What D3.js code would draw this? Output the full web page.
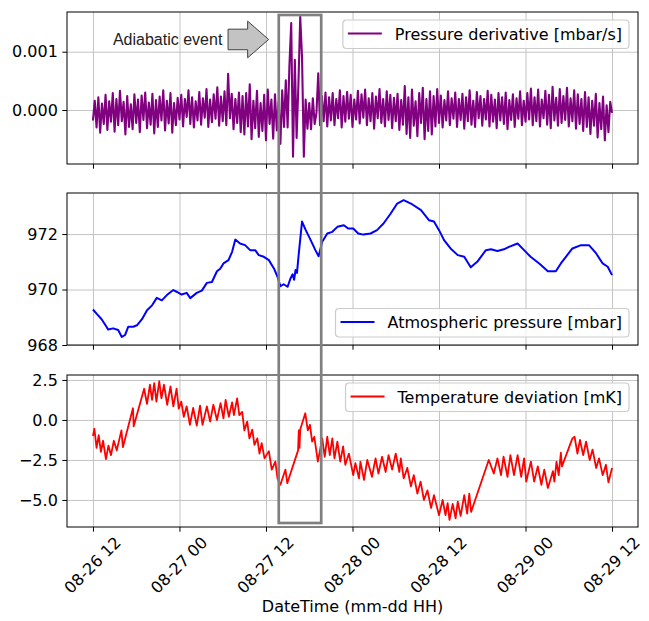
<!DOCTYPE html>
<html>
<head>
<meta charset="utf-8">
<script src="https://cdn.jsdelivr.net/npm/d3@7"></script>
<style>
  body { margin: 0; background: #fff; }
  svg { display: block; }
</style>
</head>
<body>
<div id="output"></div>
<script>
// time is kept as hours after 08-26 12:00
const startTime = Date.UTC(2023, 7, 26, 12);
const xTickHours = [0, 12, 24, 36, 48, 60, 72];
const xLabel = "DateTime (mm-dd HH)";

// pressure derivative in 1e-4 mbar/s, one sample every 15 min
const derivStepHours = 0.25;
const derivValues = [
  -1.8, 1.6, -3.0, 2.2, -3.9, 1.1, -2.4, 2.6, -3.4, 1.5, -2.0, 2.9,
  -3.7, 1.9, -2.6, 3.3, -1.9, 1.4, -4.2, 2.4, -2.9, 1.0, -3.3, 2.7,
  -2.2, 1.8, -3.8, 2.5, -1.7, 3.0, -3.1, 1.3, -2.5, 2.8, -4.0, 1.7,
  -2.9, 2.3, -1.8, 3.4, -3.5, 1.6, -2.3, 2.9, -3.9, 1.2, -2.6, 2.1,
  -1.6, 2.6, -2.8, 1.9, -1.2, 3.4, -2.4, 2.2, -3.0, 1.5, -1.8, 3.1,
  -2.5, 2.0, -1.3, 3.6, -2.9, 1.8, -2.1, 2.7, -1.5, 3.9, -2.7, 2.3,
  -1.9, 3.2, -2.6, 6.2, -1.4, 2.8, -3.3, 1.9, -2.2, 3.0, -3.8, 2.4,
  -4.2, 2.9, -2.8, 4.4, -5.0, 1.6, -3.1, 3.3, -4.6, 1.2, -3.6, 2.6,
  -5.2, 3.5, -2.4, 1.8, -4.9, 2.7, -3.5, 1.4, -5.8, 3.4, -2.9, 5.1,
  -3.0, 7.6, 14.9, -8.0, 8.6, -4.8, 4.5, 16.0, 9.0, -8.0, 1.8, -3.2,
  1.2, -3.3, 2.0, -2.4, -0.5, 6.3, -2.6, 2.4, -1.9, 3.0, -2.8, 2.2,
  -1.8, 2.9, -2.6, 1.9, -1.4, 3.4, -3.0, 2.4, -2.0, 3.1, -1.5, 2.6,
  -2.9, 1.8, -1.6, 3.3, -2.3, 2.7, -1.3, 3.5, -2.6, 2.0, -1.9, 2.9,
  -3.2, 2.3, -1.4, 3.6, -2.2, 1.9, -2.8, 3.2, -1.7, 2.6, -3.1, 2.1,
  -1.9, 2.8, -3.4, 1.7, -2.5, 4.1, -4.1, 2.2, -4.8, 3.5, -2.7, 1.5,
  -4.5, 2.9, -2.2, 3.8, -5.0, 1.9, -3.6, 3.2, -4.2, 2.4, -2.8, 3.6,
  -2.2, 2.5, -3.0, 1.7, -1.8, 3.2, -2.6, 2.0, -1.5, 3.0, -2.9, 1.9,
  -1.7, 2.8, -3.2, 2.2, -1.9, 3.4, -2.5, 1.6, -2.9, 3.1, -1.4, 2.4,
  -2.7, 1.9, -1.6, 3.3, -2.8, 2.6, -2.0, 1.8, -3.1, 2.9, -1.8, 2.2,
  -2.4, 3.0, -3.3, 1.7, -1.7, 2.7, -2.9, 2.0, -1.5, 3.2, -2.6, 1.6,
  -2.0, 2.9, -1.6, 3.7, -2.6, 2.2, -1.9, 3.5, -2.8, 1.8, -1.4, 3.3,
  -2.5, 2.6, -3.1, 4.0, -1.8, 2.1, -2.7, 3.6, -2.2, 2.4, -1.7, 3.8,
  -2.8, 2.0, -1.9, 3.4, -3.2, 2.7, -2.4, 1.9, -3.6, 3.1, -2.9, 2.2,
  -4.1, 1.6, -2.7, 2.8, -4.7, 1.2, -3.3, 2.3, -5.2, 0.8, -3.8, 1.4,
  -0.5
];
const derivTicks = [0, 10];
const derivTickLabels = ["0.000", "0.001"];

// atmospheric pressure [hours, mbar]
const pressurePoints = [
  [0, 969.28], [0.5, 969.13], [1.2, 968.93], [1.9, 968.65], [2.1, 968.56],
  [2.8, 968.6], [3.5, 968.54], [4.0, 968.29], [4.45, 968.36], [4.9, 968.66],
  [5.6, 968.66], [6.1, 968.71], [6.8, 968.93], [7.5, 969.25], [8.2, 969.43],
  [8.85, 969.7], [9.55, 969.61], [10.25, 969.8], [11.15, 969.98], [11.6, 969.92],
  [12.3, 969.82], [13.0, 969.88], [13.5, 969.69], [14.4, 969.88], [15.1, 969.96],
  [15.8, 970.24], [16.5, 970.27], [17.2, 970.66], [17.65, 970.75], [18.1, 970.94],
  [18.8, 971.06], [19.3, 971.36], [19.75, 971.8], [20.4, 971.66], [21.1, 971.6],
  [21.8, 971.42], [22.5, 971.42], [23.0, 971.24], [23.7, 971.18], [24.4, 971.06],
  [25.1, 970.76], [25.6, 970.46], [26.0, 970.12], [26.45, 970.19], [27.0, 970.1],
  [27.4, 970.4], [27.7, 970.55], [27.9, 970.35], [28.1, 970.7], [28.3, 970.6],
  [28.55, 971.3], [29.0, 972.45], [29.5, 972.15], [30.2, 971.78], [30.85, 971.42],
  [31.3, 971.2], [31.8, 971.72], [32.5, 972.02], [33.2, 972.08], [33.9, 972.26],
  [34.8, 972.32], [35.4, 972.2], [36.1, 972.2], [36.8, 972.02], [37.5, 971.98],
  [38.5, 972.02], [39.4, 972.14], [40.3, 972.38], [41.3, 972.74], [42.2, 973.1],
  [43.1, 973.22], [44.1, 973.1], [45.5, 972.86], [46.6, 972.5], [47.3, 972.45],
  [48.0, 972.14], [48.7, 971.78], [49.6, 971.48], [50.6, 971.24], [51.5, 971.18],
  [52.4, 970.8], [53.3, 971.0], [54.5, 971.42], [55.2, 971.45], [56.1, 971.39],
  [57.0, 971.45], [57.7, 971.54], [58.9, 971.66], [59.8, 971.42], [60.7, 971.18],
  [61.9, 970.94], [63.1, 970.66], [64.2, 970.66], [64.9, 970.94], [65.6, 971.18],
  [66.5, 971.48], [67.7, 971.6], [68.8, 971.6], [69.8, 971.3], [70.7, 970.94],
  [71.4, 970.82], [72.0, 970.52]
];
const pressureTicks = [968, 970, 972];
const pressureTickLabels = ["968", "970", "972"];

// temperature deviation [hours, mK]
const tempPoints = [
  [0, -1.0], [0.2, -0.55], [0.5, -1.75], [0.8, -0.95], [1.1, -2.0], [1.4, -1.3],
  [1.8, -2.45], [2.15, -1.6], [2.5, -2.2], [2.9, -1.3], [3.3, -1.9], [3.95, -0.65],
  [4.15, -1.7], [5.55, 0.73], [5.65, -0.4], [7.1, 1.95],
  [7.5, 1.0], [7.9, 2.2], [8.2, 1.25], [8.5, 2.3], [8.8, 1.15], [9.2, 2.42],
  [9.5, 1.35], [9.85, 2.2], [10.3, 0.95], [10.75, 2.1], [11.15, 0.85], [11.6, 1.95],
  [11.9, 0.7], [12.25, 1.15], [12.6, 0.2], [13.0, 0.85], [13.45, -0.3], [13.9, 0.75],
  [14.4, -0.35], [14.85, 0.9], [15.2, -0.3], [15.8, 0.85], [16.25, -0.1], [16.7, 0.95],
  [17.2, 0.0], [17.7, 1.05], [18.1, 0.1], [18.4, 1.25], [18.85, 0.2], [19.3, 1.1],
  [19.55, 0.3], [20.0, 1.35], [20.3, 0.3], [20.7, 0.5], [21.0, -0.65], [21.4, -0.1],
  [21.7, -1.15], [22.1, -0.6], [22.4, -1.55], [22.8, -1.15], [23.1, -2.1], [23.4, -1.45],
  [23.8, -2.4], [24.4, -1.95], [24.8, -3.1], [25.3, -2.6], [25.6, -3.65], [26.0, -4.05],
  [26.7, -3.1], [26.95, -3.95], [28.45, -1.9], [28.55, -0.65], [28.65, -1.75], [28.75, -0.6],
  [29.45, 0.42], [29.8, -0.65], [30.1, -0.3], [30.4, -1.35], [30.7, -1.05], [31.2, -2.6],
  [31.8, -1.15], [32.15, -2.3], [32.5, -1.05], [32.85, -2.2], [33.2, -1.15], [33.5, -2.4],
  [33.9, -1.35], [34.3, -2.6], [34.7, -1.65], [35.0, -2.8], [35.5, -2.1], [36.1, -3.45],
  [36.4, -2.7], [36.9, -3.65], [37.1, -2.6], [37.6, -3.75], [38.05, -2.5], [38.7, -3.55],
  [39.2, -2.4], [39.6, -3.35], [40.1, -2.3], [40.6, -3.25], [41.0, -2.2], [41.5, -3.1],
  [42.0, -2.1], [42.5, -3.25], [42.7, -2.4], [43.1, -3.65], [43.6, -3.0], [44.1, -4.15],
  [44.5, -3.45], [45.0, -4.6], [45.45, -3.85], [45.9, -5.0], [46.4, -4.4], [46.9, -5.5],
  [47.3, -4.7], [48.0, -5.95], [48.5, -5.0], [48.9, -5.95], [49.2, -5.2], [49.45, -6.25],
  [49.9, -5.25], [50.3, -6.15], [50.6, -5.1], [51.0, -6.0], [51.5, -4.7], [51.9, -5.85],
  [52.2, -4.6], [52.45, -5.75], [54.9, -2.5], [55.6, -3.35], [56.1, -2.4], [56.6, -3.45],
  [56.95, -2.3], [57.5, -3.55], [57.9, -2.2], [58.4, -3.45], [58.9, -2.2], [59.4, -3.55],
  [59.8, -2.4], [60.1, -3.85], [60.75, -2.6], [61.2, -3.85], [61.7, -2.9], [62.2, -4.05],
  [62.6, -3.1], [63.1, -4.25], [63.8, -3.2], [64.0, -3.85], [64.3, -2.6], [64.6, -3.45],
  [64.9, -2.05], [65.05, -2.9], [66.5, -1.15], [66.8, -1.05], [67.2, -2.1], [67.55, -1.25],
  [68.0, -2.2], [68.4, -1.35], [68.9, -2.5], [69.3, -1.85], [69.8, -3.0], [70.2, -2.4],
  [70.7, -3.45], [71.15, -2.8], [71.5, -3.9], [72.0, -3.0]
];
const tempTicks = [-5, -2.5, 0, 2.5];
const tempTickLabels = ["\u22125.0", "\u22122.5", "0.0", "2.5"];

// highlighted window (hours) and arrow tip
const eventWindow = [25.77, 31.66];
const arrowTipHour = 24.37;
const arrowText = "Adiabatic event";

const width = 649, height = 621;
const xLeft = 67, xRight = 638;
const font = "DejaVu Sans";
const gridColor = "#c4c4c4";
const hourMs = 3600 * 1000;
const toDate = (h) => new Date(startTime + h * hourMs);

// matplotlib style 5% margin around the data span
const span = xTickHours[xTickHours.length - 1] - xTickHours[0];
const x = d3.scaleUtc()
  .domain([toDate(-span * 0.05), toDate(span * 1.05)])
  .range([xLeft, xRight]);
const xTickDates = xTickHours.map(toDate);
const fmt = d3.utcFormat("%m-%d %H");

const svg = d3.select("#output").append("svg")
  .attr("width", width)
  .attr("height", height)
  .attr("font-family", font);

const panels = [
  {
    top: 12, bottom: 164, domain: [-9.26, 16.81],
    ticks: derivTicks, labels: derivTickLabels,
    points: derivValues.map((v, i) => [i * derivStepHours, v]),
    color: "#800080", lineWidth: 2.1,
    legend: "Pressure derivative [mbar/s]", legendAt: "top"
  },
  {
    top: 193, bottom: 345, domain: [968, 973.48],
    ticks: pressureTicks, labels: pressureTickLabels,
    points: pressurePoints, color: "#0000ff", lineWidth: 2,
    legend: "Atmospheric pressure [mbar]", legendAt: "bottom"
  },
  {
    top: 375, bottom: 527, domain: [-6.69, 2.81],
    ticks: tempTicks, labels: tempTickLabels,
    points: tempPoints, color: "#ff0000", lineWidth: 1.8,
    legend: "Temperature deviation [mK]", legendAt: "top", showDates: true
  }
];

function drawPanel(p) {
  const y = d3.scaleLinear().domain(p.domain).range([p.bottom, p.top]);
  const h = p.bottom - p.top;
  const g = svg.append("g");

  // grid
  g.append("g")
    .attr("transform", `translate(0,${p.bottom})`)
    .call(d3.axisBottom(x).tickValues(xTickDates).tickSize(-h).tickFormat(""))
    .call(a => a.select(".domain").remove())
    .selectAll("line").attr("stroke", gridColor).attr("stroke-width", 1);
  g.append("g")
    .attr("transform", `translate(${xLeft},0)`)
    .call(d3.axisLeft(y).tickValues(p.ticks).tickSize(-(xRight - xLeft)).tickFormat(""))
    .call(a => a.select(".domain").remove())
    .selectAll("line").attr("stroke", gridColor).attr("stroke-width", 1);

  // data line
  g.append("path")
    .datum(p.points)
    .attr("fill", "none")
    .attr("stroke", p.color)
    .attr("stroke-width", p.lineWidth)
    .attr("stroke-linejoin", "round")
    .attr("d", d3.line().x(d => x(toDate(d[0]))).y(d => y(d[1])));

  // frame
  g.append("rect")
    .attr("x", xLeft).attr("y", p.top)
    .attr("width", xRight - xLeft).attr("height", h)
    .attr("fill", "none").attr("stroke", "#000").attr("stroke-width", 1);

  // y axis
  g.append("g")
    .attr("transform", `translate(${xLeft},0)`)
    .call(d3.axisLeft(y).tickValues(p.ticks).tickFormat((d, i) => p.labels[i]).tickSize(4.7).tickPadding(4.5))
    .call(a => a.select(".domain").remove())
    .attr("font-size", 16).attr("font-family", font)
    .selectAll("text").attr("fill", "#000");

  // x ticks, date labels only on the bottom panel
  const xa = g.append("g")
    .attr("transform", `translate(0,${p.bottom})`)
    .call(d3.axisBottom(x).tickValues(xTickDates).tickSize(4.7).tickFormat(p.showDates ? fmt : ""))
    .call(a => a.select(".domain").remove())
    .attr("font-size", 16).attr("font-family", font);
  if (p.showDates) {
    xa.selectAll("text")
      .attr("fill", "#000")
      .attr("y", null)
      .attr("dy", "0.35em")
      .attr("text-anchor", "middle")
      .attr("transform", "translate(-1,38) rotate(-45)");
  }

  // legend
  const lg = g.append("g");
  const box = lg.append("rect");
  lg.append("line")
    .attr("x1", 5).attr("x2", 39).attr("y1", 13.5).attr("y2", 13.5)
    .attr("stroke", p.color).attr("stroke-width", 2);
  const txt = lg.append("text")
    .attr("x", 52).attr("y", 14).attr("dy", "0.35em")
    .attr("font-size", 16).attr("fill", "#000")
    .text(p.legend);
  const bw = txt.node().getComputedTextLength() + 59;
  const bh = 28.5;
  box.attr("width", bw).attr("height", bh).attr("rx", 3.5)
    .attr("fill", "#fff").attr("fill-opacity", 0.8)
    .attr("stroke", "#cccccc").attr("stroke-width", 1.2);
  const ly = p.legendAt === "top" ? p.top + 8 : p.bottom - 8 - bh;
  lg.attr("transform", `translate(${xRight - 9 - bw},${ly})`);

  return y;
}

const yScales = panels.map(drawPanel);

// event box spanning all three panels
const ex0 = x(toDate(eventWindow[0]));
const ex1 = x(toDate(eventWindow[1]));
const ey0 = yScales[0](16.3);
const ey1 = yScales[2](-6.44);
svg.append("rect")
  .attr("x", ex0).attr("y", ey0)
  .attr("width", ex1 - ex0).attr("height", ey1 - ey0)
  .attr("fill", "none").attr("stroke", "#808080").attr("stroke-width", 2.7);

// block arrow + label
const tx = x(toDate(arrowTipHour));
const ty = yScales[0](12.1);
const arrow = [
  [tx, ty], [tx - 21, ty - 18.3], [tx - 21, ty - 10.3], [tx - 40.6, ty - 10.3],
  [tx - 40.6, ty + 10.3], [tx - 21, ty + 10.3], [tx - 21, ty + 18.3]
];
svg.append("path")
  .attr("d", d3.line()(arrow) + "Z")
  .attr("fill", "#c3c3c3").attr("stroke", "#404040").attr("stroke-width", 1);
svg.append("text")
  .attr("x", tx - 46.3).attr("y", ty + 5.2)
  .attr("text-anchor", "end")
  .attr("font-family", "Liberation Sans")
  .attr("font-size", 16)
  .attr("fill", "#222")
  .text(arrowText);

// x axis title
svg.append("text")
  .attr("x", (xLeft + xRight) / 2).attr("y", 612)
  .attr("text-anchor", "middle")
  .attr("font-size", 16).attr("fill", "#000")
  .text(xLabel);
</script>
</body>
</html>
